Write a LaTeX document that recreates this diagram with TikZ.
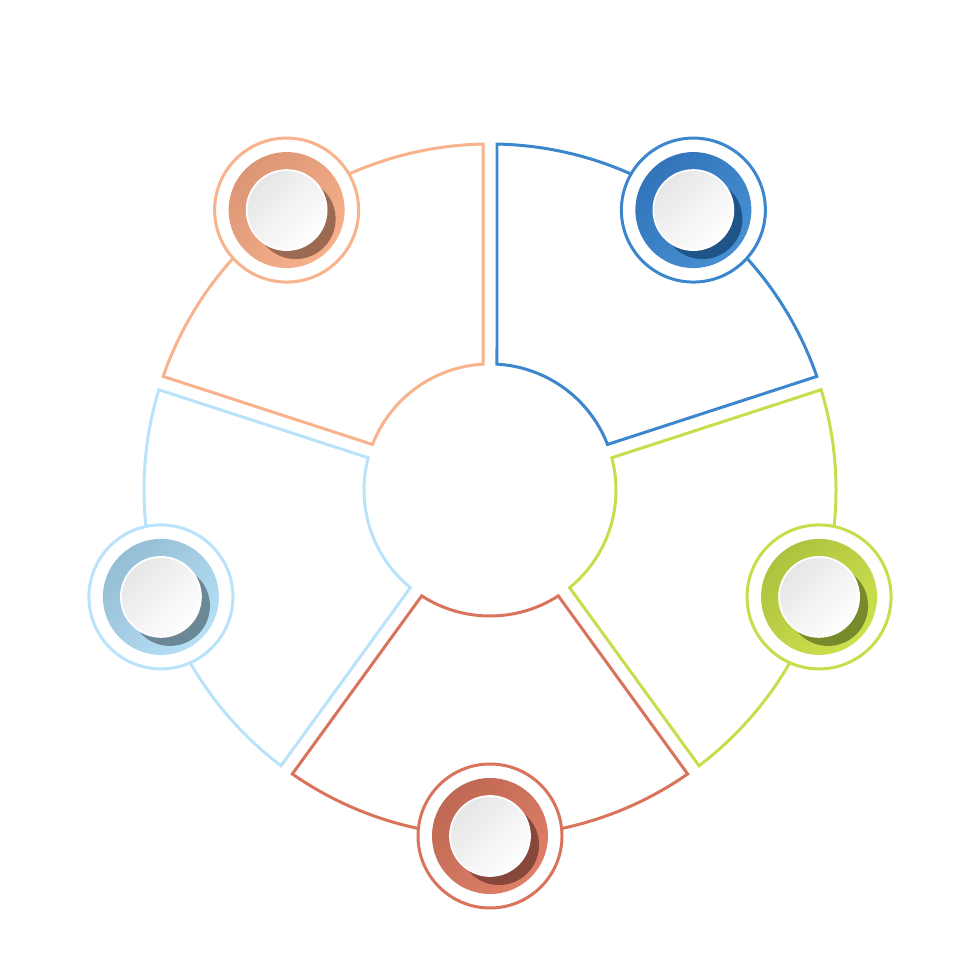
\documentclass[tikz,border=0pt]{standalone}
\definecolor{cblue}{HTML}{3B86CC}
\definecolor{cblueD}{HTML}{3274BA}
\definecolor{cblueL}{HTML}{4690D2}
\definecolor{cblueS}{HTML}{1F5488}
\definecolor{cgreen}{HTML}{C9DC4C}
\definecolor{cgreenD}{HTML}{AFC23F}
\definecolor{cgreenL}{HTML}{CDE14E}
\definecolor{cgreenS}{HTML}{778A2C}
\definecolor{cred}{HTML}{D9735C}
\definecolor{credD}{HTML}{BF6853}
\definecolor{credL}{HTML}{DF8068}
\definecolor{credS}{HTML}{87473A}
\definecolor{clblue}{HTML}{B9E3FA}
\definecolor{clblueD}{HTML}{95BDD4}
\definecolor{clblueL}{HTML}{B6E0F7}
\definecolor{clblueS}{HTML}{6C8796}
\definecolor{corange}{HTML}{F8B28C}
\definecolor{corangeD}{HTML}{DC9674}
\definecolor{corangeL}{HTML}{F6B08B}
\definecolor{corangeS}{HTML}{9C6A52}
\definecolor{wdark}{HTML}{E6E6E6}
\begin{document}
\begin{tikzpicture}[x=0.01cm,y=0.01cm]
\useasboundingbox (-490,-490) rectangle (490,490);
\def\Ro{346}\def\Ri{126}\def\dO{1.16}\def\dI{3.18}
\tikzset{segline/.style={line width=0.85pt, line join=miter}}
\newcommand\mysegment[3]{%
  \draw[segline, draw=#1] ({#2-\dO}:\Ro) arc[start angle={#2-\dO}, end angle={#3+\dO}, radius=\Ro]
    -- ({#3+\dI}:\Ri) arc[start angle={#3+\dI}, end angle={#2-\dI}, radius=\Ri] -- cycle;}
\newcommand\mybadge[5]{%
  \begin{scope}[shift={(#1:\Ro)}]
    \draw[line width=0.85pt, draw=#2, fill=white] (0,0) circle[radius=72];
    \shade[top color=#3, bottom color=#4, shading angle=45] (0,0) circle[radius=58];
    \fill[#5] (9,-9) circle[radius=40];
    \shade[top color=wdark, bottom color=white, shading angle=45] (0,0) circle[radius=40];
    \draw[white, line width=0.5pt] (0,0) circle[radius=40];
  \end{scope}}
\mysegment{cblue}{90}{18}
\mysegment{cgreen}{18}{-54}
\mysegment{cred}{-54}{-126}
\mysegment{clblue}{-126}{-198}
\mysegment{corange}{162}{90}
\mybadge{54}{cblue}{cblueD}{cblueL}{cblueS}
\mybadge{-18}{cgreen}{cgreenD}{cgreenL}{cgreenS}
\mybadge{-90}{cred}{credD}{credL}{credS}
\mybadge{198}{clblue}{clblueD}{clblueL}{clblueS}
\mybadge{126}{corange}{corangeD}{corangeL}{corangeS}
\end{tikzpicture}
\end{document}
